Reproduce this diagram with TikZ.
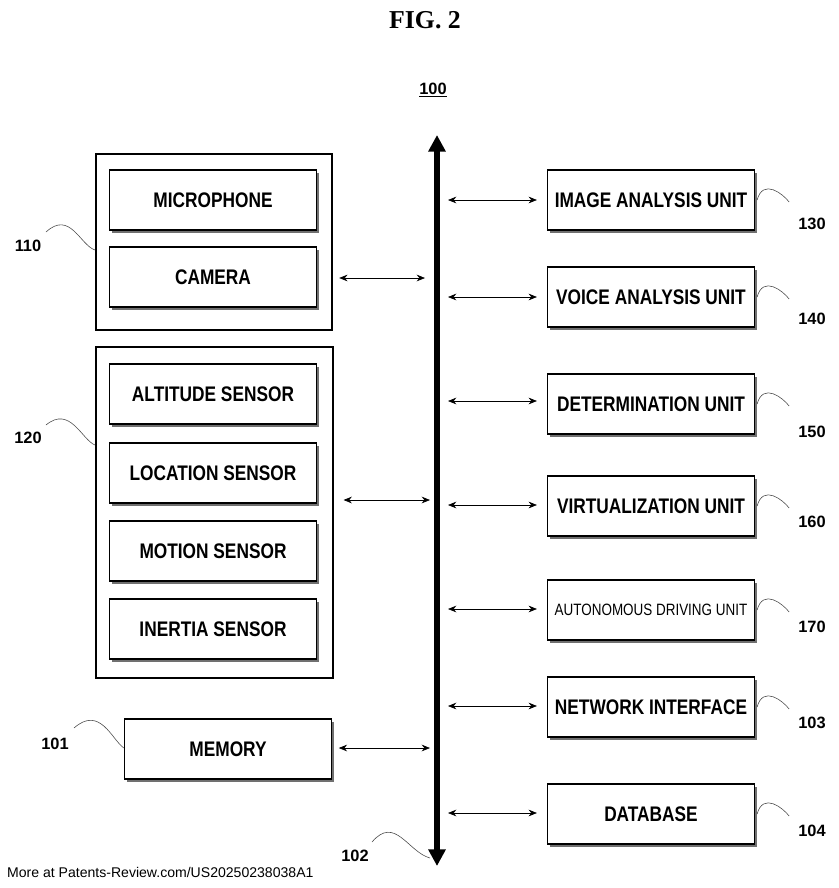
\documentclass[tikz,border=0pt]{standalone}
\usepackage{fontspec}
\setmainfont{Liberation Serif}
\setsansfont{Liberation Sans}
\newfontfamily\unitfont{Liberation Sans}[FakeStretch=0.82]
\usetikzlibrary{positioning,arrows.meta,shadows}

\tikzset{
  unit/.style={rectangle, draw=black, line width=1.3pt, fill=white,
    minimum width=6.2cm, minimum height=1.8cm, align=center, inner sep=1pt,
    font=\unitfont\bfseries\fontsize{18}{20}\selectfont,
    drop shadow={shadow xshift=0.08cm, shadow yshift=-0.08cm, fill=black!70, opacity=0.8}},
  group/.style={rectangle, draw=black, line width=1.3pt},
  link/.style={{Stealth[length=2.5mm,width=2mm]}-{Stealth[length=2.5mm,width=2mm]}, line width=0.6pt},
  refnum/.style={font=\sffamily\bfseries\fontsize{14}{16}\selectfont},
  leader/.style={draw=black!70, line width=0.5pt}
}

\begin{document}
\begin{tikzpicture}[x=0.03cm, y=-0.03cm]
  \useasboundingbox (0,0) rectangle (839,888);

  \node[font=\bfseries\fontsize{22}{24}\selectfont] (title) at (425,20) {FIG. 2};
  \node[refnum] (n100) at (433,90) {\underline{100}};

  % bus
  \coordinate (busTop) at (437,135);
  \coordinate (busBot) at (437,866);
  \draw[{Triangle[length=5mm,width=5mm]}-{Triangle[length=5mm,width=5mm]}, line width=5pt] (busTop) -- (busBot);

  % left side
  \node[group, minimum width=7.08cm, minimum height=5.28cm, anchor=north west] (g110) at (95,153) {};
  \node[group, minimum width=7.11cm, minimum height=9.93cm, anchor=north west] (g120) at (95,346) {};

  \node[unit] (mic) at (213,200) {MICROPHONE};
  \node[unit] (cam) at (213,277) {CAMERA};
  \node[unit] (alt) at (213,394) {ALTITUDE SENSOR};
  \node[unit] (loc) at (213,473) {LOCATION SENSOR};
  \node[unit] (mot) at (213,551) {MOTION SENSOR};
  \node[unit] (ine) at (213,629) {INERTIA SENSOR};
  \node[unit] (mem) at (228,749) {MEMORY};

  % right side
  \node[unit] (img) at (651,200) {IMAGE ANALYSIS UNIT};
  \node[unit] (voice) at (651,297) {VOICE ANALYSIS UNIT};
  \node[unit] (det) at (651,404) {DETERMINATION UNIT};
  \node[unit] (virt) at (651,506) {VIRTUALIZATION UNIT};
  \node[unit, font=\unitfont\fontsize{14}{16}\selectfont] (auto) at (651,610) {AUTONOMOUS DRIVING UNIT};
  \node[unit] (net) at (651,707) {NETWORK INTERFACE};
  \node[unit] (db) at (651,814) {DATABASE};

  % bus taps
  \coordinate (bcam) at (425,278);
  \coordinate (bsen) at (430,500);
  \coordinate (bmem) at (430,748);
  \draw[link, shorten <=0.2cm] (g110.east |- bcam) -- (bcam);
  \draw[link, shorten <=0.3cm] (g120.east |- bsen) -- (bsen);
  \draw[link, shorten <=0.2cm] (mem.east |- bmem) -- (bmem);

  \foreach \u/\y in {img/200, voice/297, det/401, virt/505, auto/609, net/706, db/813} {
    \coordinate (b\u) at (448,\y);
    \draw[link, shorten >=0.3cm] (b\u) -- (\u.west |- b\u);
  }

  % reference numerals
  \node[refnum] (n110) at (28,246) {110};
  \node[refnum] (n120) at (28,438) {120};
  \node[refnum] (n101) at (55,744) {101};
  \node[refnum] (n102) at (355,856) {102};
  \draw[leader] (46,232) .. controls (70,210) and (80,245) .. (g110.west |- 0,250);
  \draw[leader] (46,425) .. controls (70,405) and (82,440) .. (g120.west |- 0,445);
  \draw[leader] (74,728) .. controls (100,705) and (112,740) .. (mem.west |- 0,748);
  \draw[leader] (372,842) .. controls (395,815) and (408,852) .. (430,858);

  \foreach \u/\n/\y in {img/130/224, voice/140/319, det/150/432, virt/160/522, auto/170/627, net/103/723, db/104/831} {
    \node[refnum] (n\n) at (812,\y) {\n};
    \draw[leader] (\u.east) ++(2,0) .. controls +(6,-22) and +(-6,-8) .. ++(32,2);
  }

  \node[font=\sffamily\fontsize{12}{14}\selectfont, anchor=west] (footer) at (3,872) {More at Patents-Review.com/US20250238038A1};
\end{tikzpicture}
\end{document}
